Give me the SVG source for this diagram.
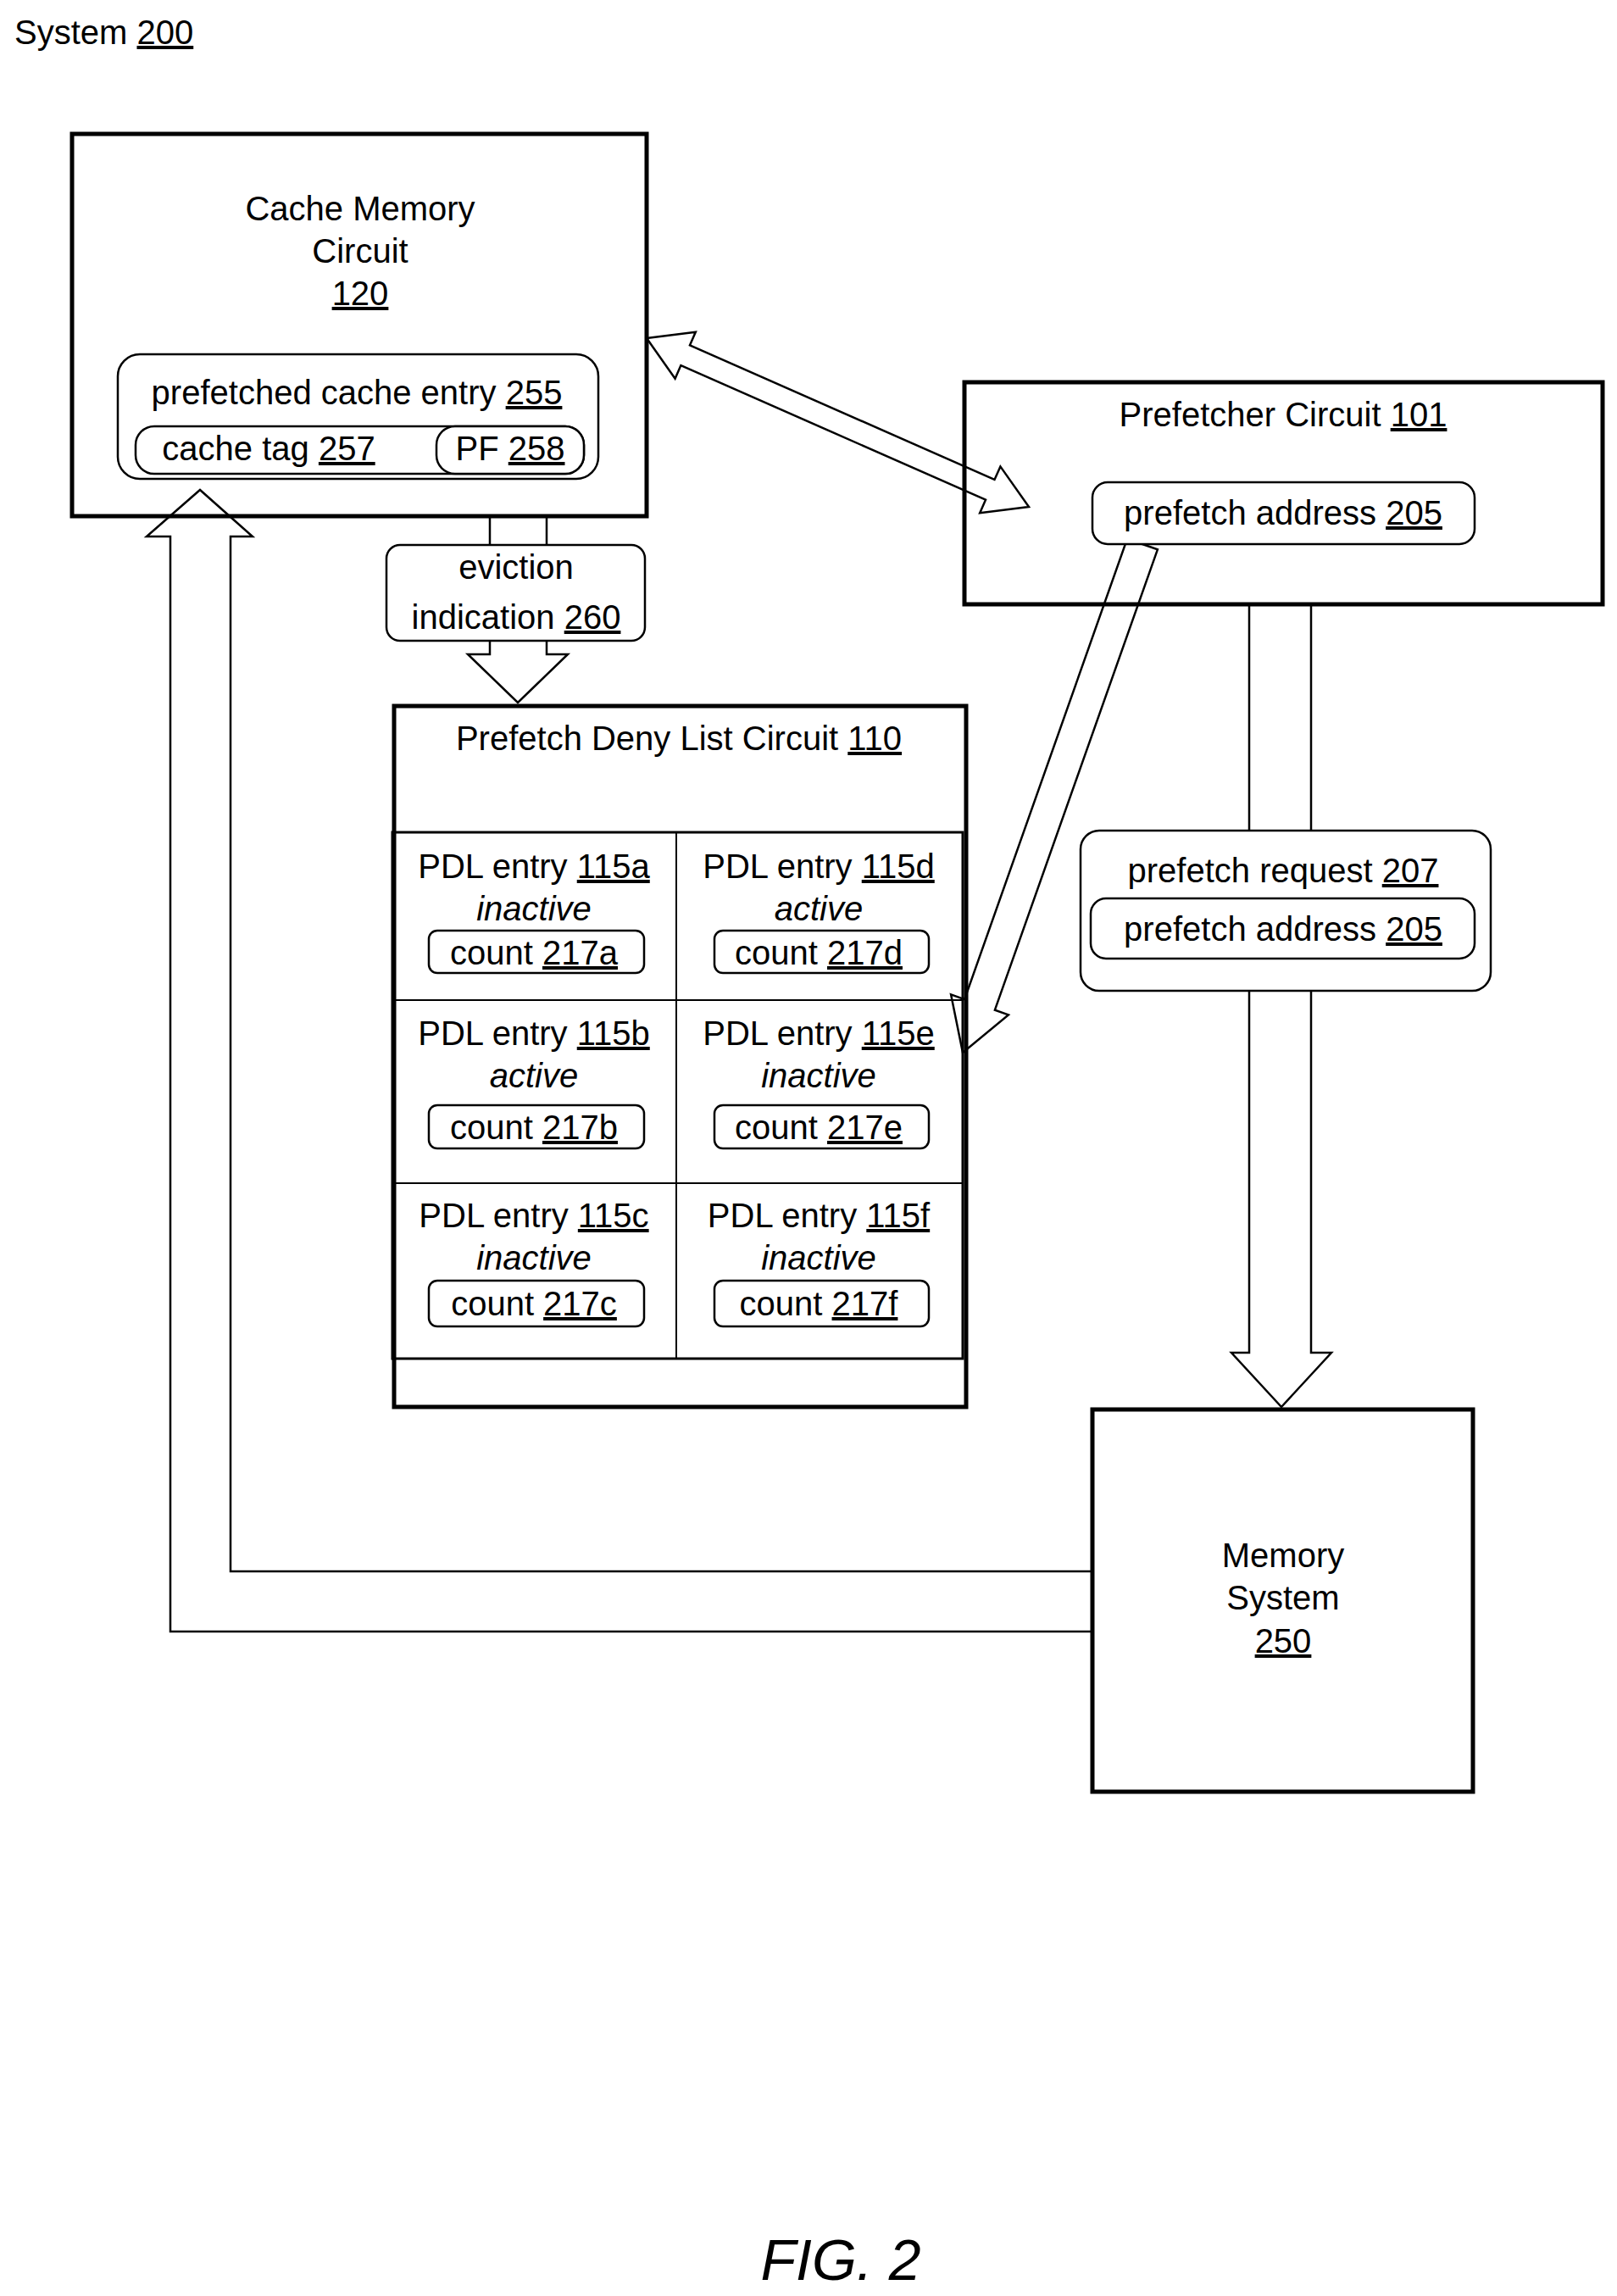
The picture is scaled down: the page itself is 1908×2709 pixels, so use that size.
<svg xmlns="http://www.w3.org/2000/svg" width="1908" height="2709" viewBox="0 0 1908 2709">
<style>
text{font-family:"Liberation Sans",Arial,sans-serif;font-size:40px;fill:#000;text-anchor:middle}
.u{text-decoration:underline}
.i{font-style:italic}
.box{fill:#fff;stroke:#000;stroke-width:5}
.rr{fill:#fff;stroke:#000;stroke-width:2.5}
.ar{fill:#fff;stroke:#000;stroke-width:2.5;stroke-linejoin:miter}
</style>
<rect width="1908" height="2709" fill="#fff"/>
<text x="17" y="52" style="text-anchor:start">System <tspan class="u">200</tspan></text>
<g id="connectors">
<polygon class="ar" points="763,399 820.8,391.8 814,407.3 1173.5,565.9 1180.4,550.4 1214,598 1156.2,605.2 1163,589.7 803.4,431.1 796.6,446.7"/>
<polygon class="ar" points="1330.1,635.7 1365.9,648.3 1173.9,1191.7 1189.9,1197.4 1136,1242 1122.1,1173.4 1138.1,1179.1"/>
<polygon class="ar" points="578,609 645,609 645,772 670,772 611,829 552,772 578,772"/>
<polygon class="ar" points="1474,713 1547,713 1547,1596 1571,1596 1512,1660 1453,1596 1474,1596"/>
<polygon class="ar" points="1289,1925 201,1925 201,633 173,633 236,578 298,633 272,633 272,1854 1289,1854"/>
</g>
<g id="cache">
<rect class="box" x="85" y="158" width="678" height="451" style="fill:none"/>
<text x="425" y="260">Cache Memory</text>
<text x="425" y="310">Circuit</text>
<text x="425" y="360" class="u">120</text>
<rect class="rr" x="139" y="418" width="567" height="147" rx="26"/>
<text x="421" y="477">prefetched cache entry <tspan class="u">255</tspan></text>
<rect class="rr" x="160" y="503" width="529" height="56" rx="22"/>
<rect class="rr" x="515" y="503" width="174" height="56" rx="22"/>
<text x="317" y="543">cache tag <tspan class="u">257</tspan></text>
<text x="602" y="543">PF <tspan class="u">258</tspan></text>
</g>
<g id="eviction">
<rect class="rr" x="456" y="643" width="305" height="113" rx="16"/>
<text x="609" y="683">eviction</text>
<text x="609" y="742">indication <tspan class="u">260</tspan></text>
</g>
<g id="pdl">
<rect class="box" x="465" y="833" width="675" height="827" style="fill:none"/>
<text x="801" y="885">Prefetch Deny List Circuit <tspan class="u">110</tspan></text>
<rect x="463" y="982" width="673" height="621" fill="none" stroke="#000" stroke-width="3"/>
<line x1="798" y1="982" x2="798" y2="1603" stroke="#000" stroke-width="2"/>
<line x1="463" y1="1180" x2="1136" y2="1180" stroke="#000" stroke-width="2"/>
<line x1="463" y1="1396" x2="1136" y2="1396" stroke="#000" stroke-width="2"/>
<text x="630" y="1036">PDL entry <tspan class="u">115a</tspan></text>
<text x="630" y="1086" class="i">inactive</text>
<rect class="rr" x="506" y="1098" width="254" height="50" rx="10"/>
<text x="630" y="1138">count <tspan class="u">217a</tspan></text>
<text x="966" y="1036">PDL entry <tspan class="u">115d</tspan></text>
<text x="966" y="1086" class="i">active</text>
<rect class="rr" x="843" y="1098" width="253" height="50" rx="10"/>
<text x="966" y="1138">count <tspan class="u">217d</tspan></text>
<text x="630" y="1233">PDL entry <tspan class="u">115b</tspan></text>
<text x="630" y="1283" class="i">active</text>
<rect class="rr" x="506" y="1304" width="254" height="51" rx="10"/>
<text x="630" y="1344">count <tspan class="u">217b</tspan></text>
<text x="966" y="1233">PDL entry <tspan class="u">115e</tspan></text>
<text x="966" y="1283" class="i">inactive</text>
<rect class="rr" x="843" y="1304" width="253" height="51" rx="10"/>
<text x="966" y="1344">count <tspan class="u">217e</tspan></text>
<text x="630" y="1448">PDL entry <tspan class="u">115c</tspan></text>
<text x="630" y="1498" class="i">inactive</text>
<rect class="rr" x="506" y="1511" width="254" height="54" rx="10"/>
<text x="630" y="1552">count <tspan class="u">217c</tspan></text>
<text x="966" y="1448">PDL entry <tspan class="u">115f</tspan></text>
<text x="966" y="1498" class="i">inactive</text>
<rect class="rr" x="843" y="1511" width="253" height="54" rx="10"/>
<text x="966" y="1552">count <tspan class="u">217f</tspan></text>
</g>
<g id="prefetcher">
<rect class="box" x="1138" y="451" width="753" height="262" style="fill:none"/>
<text x="1514" y="503">Prefetcher Circuit <tspan class="u">101</tspan></text>
<rect class="rr" x="1289" y="569" width="451" height="73" rx="18"/>
<text x="1514" y="619">prefetch address <tspan class="u">205</tspan></text>
</g>
<g id="request">
<rect class="rr" x="1275" y="980" width="484" height="189" rx="22"/>
<text x="1514" y="1041">prefetch request <tspan class="u">207</tspan></text>
<rect class="rr" x="1287" y="1060" width="453" height="71" rx="18"/>
<text x="1514" y="1110">prefetch address <tspan class="u">205</tspan></text>
</g>
<g id="memory">
<rect class="box" x="1289" y="1663" width="449" height="451"/>
<text x="1514" y="1849">Memory</text>
<text x="1514" y="1899">System</text>
<text x="1514" y="1950" class="u">250</text>
</g>
<text x="992" y="2690" class="i" style="font-size:68px">FIG. 2</text>
</svg>
